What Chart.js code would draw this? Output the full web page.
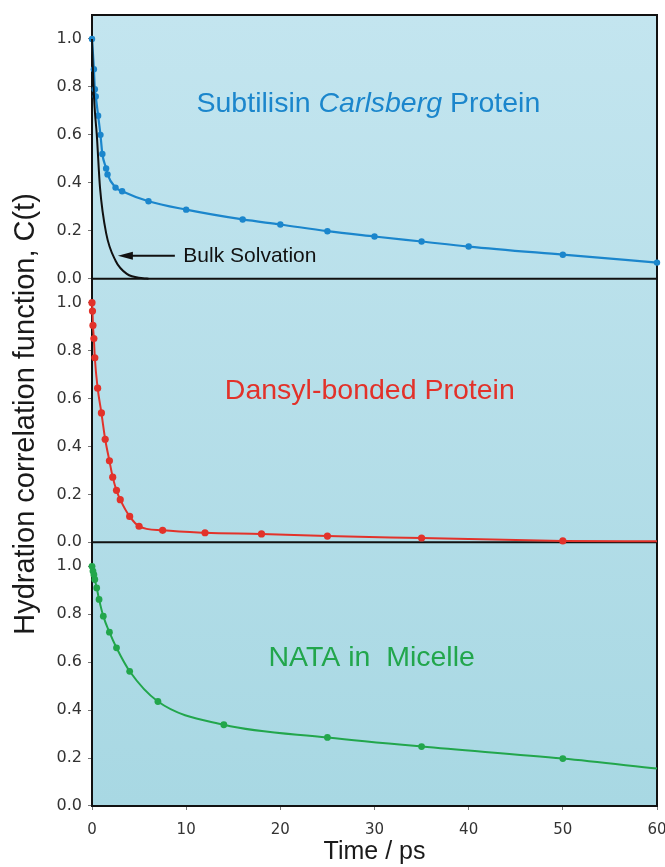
<!DOCTYPE html>
<html>
<head>
<meta charset="utf-8">
<script src="https://cdn.jsdelivr.net/npm/chart.js@4.4.0/dist/chart.umd.min.js"></script>
<style>
  html, body { margin: 0; padding: 0; background: #fff; }
  canvas { display: block; }
</style>
</head>
<body>
<canvas id="myChart" width="665" height="867"></canvas>
<script>
// axis ticks
const timeTicks = [0, 10, 20, 30, 40, 50, 60];
const corrTicks = [0, 0.2, 0.4, 0.6, 0.8, 1.0];

// Subtilisin Carlsberg protein (top panel)
const subtilisinTime = [0, 0.2, 0.3, 0.4, 0.65, 0.9, 1.1, 1.5, 1.65, 2.5, 3.2, 6, 10, 16, 20, 25, 30, 35, 40, 50, 60];
const subtilisinC = [1.0, 0.874, 0.79, 0.76, 0.68, 0.60, 0.52, 0.46, 0.435, 0.38, 0.365, 0.323, 0.288, 0.247, 0.226, 0.198, 0.176, 0.155, 0.134, 0.10, 0.067];

// bulk water solvation (top panel, black)
const bulkTime = [0, 0.1, 0.2, 0.32, 0.5, 0.85, 1.5, 2.5, 3.7, 5.4, 6.0];
const bulkC = [1.0, 0.86, 0.77, 0.69, 0.605, 0.38, 0.19, 0.075, 0.02, 0.002, 0.0];

// Dansyl-bonded protein (middle panel)
const dansylTime = [0, 0.05, 0.1, 0.2, 0.3, 0.6, 1.0, 1.4, 1.85, 2.2, 2.6, 3.0, 4.0, 5.0, 7.5, 12, 18, 25, 35, 50];
const dansylC = [1.0, 0.965, 0.905, 0.85, 0.77, 0.643, 0.54, 0.43, 0.34, 0.272, 0.217, 0.178, 0.108, 0.067, 0.05, 0.04, 0.035, 0.026, 0.018, 0.006];
const dansylLineEnd = [60, 0.004];

// NATA in micelle (bottom panel)
const nataTime = [0, 0.1, 0.2, 0.3, 0.5, 0.75, 1.2, 1.85, 2.6, 4.0, 7.0, 14, 25, 35, 50];
const nataC = [1.0, 0.98, 0.965, 0.945, 0.91, 0.862, 0.792, 0.725, 0.66, 0.562, 0.436, 0.339, 0.286, 0.248, 0.198];
const nataLineEnd = [60, 0.156];

const BLUE = '#1b86cc';
const RED = '#e2322a';
const GREEN = '#22a64c';
const SANS = '"Liberation Sans", Arial, sans-serif';

const toPoints = (xs, ys) => xs.map((x, i) => ({ x: x, y: ys[i] }));

const panelDecor = {
    id: 'panelDecor',
    beforeDraw(chart) {
        const { ctx, chartArea: a } = chart;
        const g = ctx.createLinearGradient(0, a.top, 0, a.bottom);
        g.addColorStop(0, '#c3e5ef');
        g.addColorStop(1, '#a8d8e3');
        ctx.save();
        ctx.fillStyle = g;
        ctx.fillRect(a.left, a.top, a.width, a.height);
        ctx.restore();
    },
    beforeDatasetsDraw(chart) {
        const { ctx, chartArea: a, scales } = chart;
        ctx.save();
        ctx.strokeStyle = '#111';
        ctx.lineWidth = 2;
        ctx.strokeRect(a.left, a.top, a.width, a.height);
        ['yTop', 'yMid'].forEach(id => {
            const y = scales[id].getPixelForValue(0);
            ctx.beginPath();
            ctx.moveTo(a.left, y);
            ctx.lineTo(a.right, y);
            ctx.stroke();
        });
        ctx.restore();
    },
    afterDatasetsDraw(chart) {
        const { ctx, scales } = chart;
        const x = scales.x;
        ctx.save();

        // panel titles
        ctx.textBaseline = 'alphabetic';
        ctx.textAlign = 'left';
        const parts = [
            ['Subtilisin ', 'normal'],
            ['Carlsberg', 'italic'],
            [' Protein', 'normal']
        ];
        let total = 0;
        parts.forEach(p => {
            ctx.font = p[1] + ' 28.5px ' + SANS;
            total += ctx.measureText(p[0]).width;
        });
        let tx = x.getPixelForValue(29.35) - total / 2;
        const ty = scales.yTop.getPixelForValue(0.696);
        ctx.fillStyle = BLUE;
        parts.forEach(p => {
            ctx.font = p[1] + ' 28.5px ' + SANS;
            ctx.fillText(p[0], tx, ty);
            tx += ctx.measureText(p[0]).width;
        });

        ctx.textAlign = 'center';
        ctx.font = '28.5px ' + SANS;
        ctx.fillStyle = RED;
        ctx.fillText('Dansyl-bonded Protein', x.getPixelForValue(29.5), scales.yMid.getPixelForValue(0.6));
        ctx.fillStyle = GREEN;
        ctx.fillText('NATA in  Micelle', x.getPixelForValue(29.7), scales.yBot.getPixelForValue(0.586));

        // bulk solvation label with arrow
        const ay = scales.yTop.getPixelForValue(0.096);
        const tail = x.getPixelForValue(8.8);
        const head = x.getPixelForValue(2.75);
        ctx.strokeStyle = '#111';
        ctx.fillStyle = '#111';
        ctx.lineWidth = 2;
        ctx.beginPath();
        ctx.moveTo(tail, ay);
        ctx.lineTo(head + 10, ay);
        ctx.stroke();
        ctx.beginPath();
        ctx.moveTo(head, ay);
        ctx.lineTo(head + 15, ay - 4);
        ctx.lineTo(head + 15, ay + 4);
        ctx.closePath();
        ctx.fill();
        ctx.textAlign = 'left';
        ctx.font = '21px ' + SANS;
        ctx.fillText('Bulk Solvation', x.getPixelForValue(9.7), scales.yTop.getPixelForValue(0.068));

        // shared y axis title
        ctx.translate(34, 414);
        ctx.rotate(-Math.PI / 2);
        ctx.textAlign = 'center';
        ctx.font = '29px ' + SANS;
        ctx.fillStyle = '#1a1a1a';
        ctx.fillText('Hydration correlation function, C(t)', 0, 0);
        ctx.restore();
    }
};

function yPanel(weight) {
    return {
        type: 'linear',
        position: 'left',
        stack: 'panels',
        stackWeight: 1,
        weight: weight,
        min: 0,
        max: 1.1,
        afterBuildTicks: s => { s.ticks = corrTicks.map(v => ({ value: v })); },
        afterFit: s => { s.width = 92; s.paddingTop = 0; s.paddingBottom = 0; },
        border: { display: false },
        grid: { drawOnChartArea: false, drawTicks: true, tickLength: 4, color: '#777' },
        ticks: {
            padding: 6,
            color: '#333',
            font: { family: '"DejaVu Sans"', size: 16 },
            callback: v => v.toFixed(1)
        }
    };
}

const myChartRef = document.getElementById('myChart').getContext('2d');
new Chart(myChartRef, {
    type: 'line',
    data: {
        datasets: [
            {
                label: 'Bulk Solvation',
                data: toPoints(bulkTime, bulkC),
                yAxisID: 'yTop',
                borderColor: '#111',
                borderWidth: 2,
                pointRadius: 0,
                cubicInterpolationMode: 'monotone',
                clip: 6
            },
            {
                label: 'Subtilisin Carlsberg Protein',
                data: toPoints(subtilisinTime, subtilisinC),
                yAxisID: 'yTop',
                borderColor: BLUE,
                backgroundColor: BLUE,
                borderWidth: 2.2,
                pointRadius: 3.2,
                pointBorderWidth: 0,
                cubicInterpolationMode: 'monotone',
                clip: 6
            },
            {
                label: 'Dansyl-bonded Protein',
                data: toPoints(dansylTime.concat([dansylLineEnd[0]]), dansylC.concat([dansylLineEnd[1]])),
                yAxisID: 'yMid',
                borderColor: RED,
                backgroundColor: RED,
                borderWidth: 2,
                pointRadius: c => (c.dataIndex < dansylTime.length ? 3.6 : 0),
                pointBorderWidth: 0,
                cubicInterpolationMode: 'monotone',
                clip: 6
            },
            {
                label: 'NATA in Micelle',
                data: toPoints(nataTime.concat([nataLineEnd[0]]), nataC.concat([nataLineEnd[1]])),
                yAxisID: 'yBot',
                borderColor: GREEN,
                backgroundColor: GREEN,
                borderWidth: 2,
                pointRadius: c => (c.dataIndex < nataTime.length ? 3.4 : 0),
                pointBorderWidth: 0,
                cubicInterpolationMode: 'monotone',
                clip: 6
            }
        ]
    },
    options: {
        responsive: false,
        animation: false,
        events: [],
        layout: { padding: { top: 15, right: 8, left: 0, bottom: 0 } },
        plugins: {
            legend: { display: false },
            tooltip: { enabled: false }
        },
        scales: {
            x: {
                type: 'linear',
                min: 0,
                max: 60,
                afterBuildTicks: s => { s.ticks = timeTicks.map(v => ({ value: v })); },
                afterFit: s => { s.height = 61; s.paddingLeft = 0; s.paddingRight = 0; },
                border: { display: false },
                grid: { drawOnChartArea: false, drawTicks: true, tickLength: 4, color: '#777' },
                ticks: {
                    padding: 11,
                    maxRotation: 0,
                    color: '#333',
                    font: { family: '"DejaVu Sans"', size: 15 }
                },
                title: {
                    display: true,
                    text: 'Time / ps',
                    color: '#1a1a1a',
                    font: { family: SANS, size: 25 },
                    padding: { top: 0, bottom: 0 }
                }
            },
            yTop: yPanel(3),
            yMid: yPanel(2),
            yBot: yPanel(1)
        }
    },
    plugins: [panelDecor]
});
</script>
</body>
</html>
